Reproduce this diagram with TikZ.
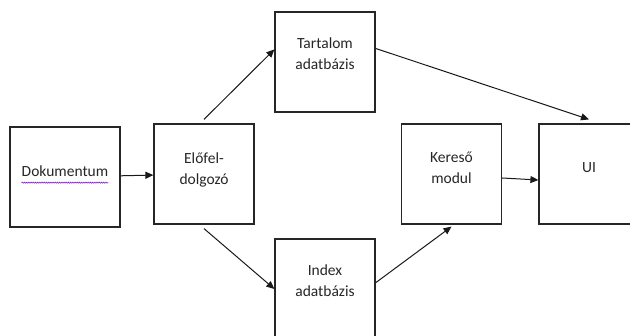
\documentclass[tikz,border=0pt]{standalone}
\usepackage{fontspec}
\setmainfont{Carlito}
\usetikzlibrary{arrows.meta,positioning,decorations.pathmorphing}
\begin{document}
\begin{tikzpicture}[
  x=1pt, y=-1pt,
  block/.style={rectangle, draw=black!85, line width=1.2pt, minimum width=100pt, minimum height=100pt, inner sep=0pt},
  caption/.style={align=center, font=\fontsize{15.5}{21}\selectfont, text=black!85, inner sep=0pt},
  link/.style={-{Triangle[length=8pt,width=7pt]}, line width=1pt, black!90}
]
\useasboundingbox (0,0) rectangle (630,336);
\clip (0,0) rectangle (630,336);

\node[block, minimum width=110pt] (dok) at (65,177) {};
\node[block] (elo) at (204,174) {};
\node[block] (tart) at (325,62) {};
\node[block] (index) at (325,289) {};
\node[block] (keres) at (451.5,174) {};
\node[block] (ui) at (589,174) {};

\node[caption] (dok-t) at ([yshift=6pt]dok.center) {Dokumentum};
\node[caption] (elo-t) at ([yshift=4pt]elo.center) {Előfel-\\dolgozó};
\node[caption] (tart-t) at ([yshift=8pt]tart.center) {Tartalom\\adatbázis};
\node[caption] (index-t) at ([yshift=8pt]index.center) {Index\\adatbázis};
\node[caption] (keres-t) at ([yshift=6pt]keres.center) {Kereső\\modul};
\node[caption] (ui-t) at ([yshift=6pt]ui.center) {UI};

% spell-check squiggle
\draw[blue!65!red!90, line width=0.5pt, decorate, decoration={snake, amplitude=0.6pt, segment length=2.2pt}]
  ([yshift=-6pt]dok-t.south west) -- ([yshift=-6pt]dok-t.south east);

\draw[link] (dok) -- (elo);
\draw[link] ([yshift=4pt]elo.north) -- (tart.166);
\draw[link] ([yshift=-4pt]elo.south) -- (index.west);
\draw[link] (index.7) -- ([yshift=-2pt]keres.south);
\draw[link] (tart.15) -- ([yshift=4pt]ui.north);
\draw[link] ([yshift=-4pt]keres.east) -- ([yshift=-6pt]ui.west);
\end{tikzpicture}
\end{document}
